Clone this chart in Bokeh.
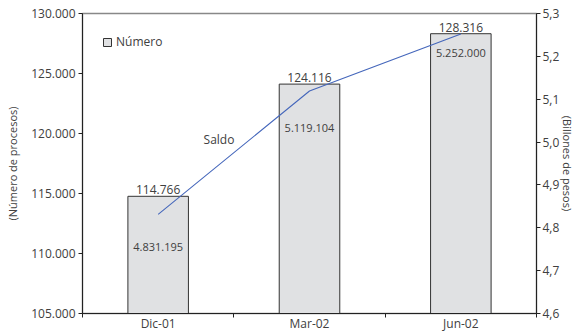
from bokeh.plotting import figure
from bokeh.models import (ColumnDataSource, Range1d, LinearAxis, FixedTicker,
                          Legend, LegendItem, LabelSet)
from bokeh.core.properties import value
from bokeh.embed import file_html
from bokeh.resources import INLINE

# ---- data ----
categories = ["Dic-01", "Mar-02", "Jun-02"]
numero = [114766, 124116, 128316]
numero_labels = ["114.766", "124.116", "128.316"]
saldo = [4.831195, 5.119104, 5.252000]
saldo_labels = ["4.831.195", "5.119.104", "5.252.000"]
left_ticks = [105000, 110000, 115000, 120000, 125000, 130000]
left_tick_labels = ["105.000", "110.000", "115.000", "120.000", "125.000", "130.000"]
right_ticks = [4.6, 4.7, 4.8, 4.9, 5.0, 5.1, 5.2, 5.3]
right_tick_labels = ["4,6", "4,7", "4,8", "4,9", "5,0", "5,1", "5,2", "5,3"]

FONT = "Open Sans"
TXT = "#404040"

xpos = [i + 0.5 for i in range(len(categories))]
src = ColumnDataSource(dict(x=xpos, numero=numero, nlab=numero_labels,
                            saldo=saldo, slab=saldo_labels,
                            soff=[-33, -37, -19]))

p = figure(width=587, height=334, output_backend="svg", toolbar_location=None,
           x_range=Range1d(0, 3), y_range=Range1d(105000, 130000),
           min_border_left=82, min_border_right=51, min_border_top=13,
           min_border_bottom=20)
p.extra_y_ranges = {"saldo": Range1d(4.6, 5.3)}
p.xgrid.visible = False
p.ygrid.visible = False
p.outline_line_color = "#888888"
p.outline_line_width = 1.5
p.background_fill_color = "white"
p.border_fill_color = "white"

bars = p.vbar(x="x", top="numero", bottom=105000, width=0.4, source=src,
              fill_color="#e0e1e3", line_color="#333333", line_width=1)
p.line(x="x", y="saldo", source=src, y_range_name="saldo",
       line_color="#4466bb", line_width=1.1)

# labels
p.add_layout(LabelSet(x="x", y="numero", text="nlab", source=src,
                      text_align="center", text_baseline="bottom", y_offset=2,
                      text_font=value(FONT), text_font_size="12px", text_color=TXT))
p.add_layout(LabelSet(x="x", y="saldo", text="slab", source=src,
                      y_range_name="saldo", y_offset="soff",
                      text_align="center", text_baseline="middle",
                      text_font=value(FONT), text_font_size="11px", text_color=TXT))
p.text(x=[0.8], y=[5.007], text=["Saldo"], y_range_name="saldo",
       text_align="left", text_baseline="middle",
       text_font=value(FONT), text_font_size="12px", text_color=TXT)

# x axis
xa = p.xaxis[0]
xa.ticker = FixedTicker(ticks=xpos, minor_ticks=[0, 1, 2, 3])
xa.major_label_overrides = {v: c for v, c in zip(xpos, categories)}
xa.major_tick_out = 0
xa.major_tick_in = 0
xa.minor_tick_out = 4
xa.minor_tick_in = 0
xa.minor_tick_line_color = "#222222"
xa.axis_line_color = "#222222"
xa.major_label_standoff = -3
xa.major_label_text_font = FONT
xa.major_label_text_font_size = "12px"
xa.major_label_text_color = TXT

# left axis
ya = p.yaxis[0]
ya.ticker = FixedTicker(ticks=left_ticks)
ya.major_label_overrides = {v: s for v, s in zip(left_ticks, left_tick_labels)}
ya.major_tick_out = 4
ya.major_tick_in = 0
ya.minor_tick_line_color = None
ya.axis_line_color = "#222222"
ya.major_tick_line_color = "#222222"
ya.major_label_text_font = FONT
ya.major_label_text_font_size = "12px"
ya.major_label_text_color = TXT
ya.major_label_standoff = 3
ya.axis_label = "(Número de procesos)"
ya.axis_label_text_font = FONT
ya.axis_label_text_font_size = "11px"
ya.axis_label_text_font_style = "normal"
ya.axis_label_text_color = TXT
ya.axis_label_standoff = 8

# right axis
ra = LinearAxis(y_range_name="saldo", ticker=FixedTicker(ticks=right_ticks))
ra.major_label_overrides = {v: s for v, s in zip(right_ticks, right_tick_labels)}
ra.major_tick_out = 4
ra.major_tick_in = 0
ra.minor_tick_line_color = None
ra.axis_line_color = "#222222"
ra.major_tick_line_color = "#222222"
ra.major_label_text_font = FONT
ra.major_label_text_font_size = "12px"
ra.major_label_text_color = TXT
ra.major_label_standoff = 2
ra.axis_label = "(Billones de pesos)"
ra.axis_label_text_font = FONT
ra.axis_label_text_font_size = "11px"
ra.axis_label_text_font_style = "normal"
ra.axis_label_text_color = TXT
ra.axis_label_standoff = -2
p.add_layout(ra, "right")

legend = Legend(items=[LegendItem(label="Número", renderers=[bars])],
                location="top_left", border_line_color=None,
                background_fill_alpha=0, label_text_font=FONT,
                label_text_font_size="12px", label_text_color=TXT,
                glyph_width=10, glyph_height=10, margin=20, padding=4,
                label_standoff=4)
p.add_layout(legend)

open("out.html", "w").write(file_html(p, INLINE))
